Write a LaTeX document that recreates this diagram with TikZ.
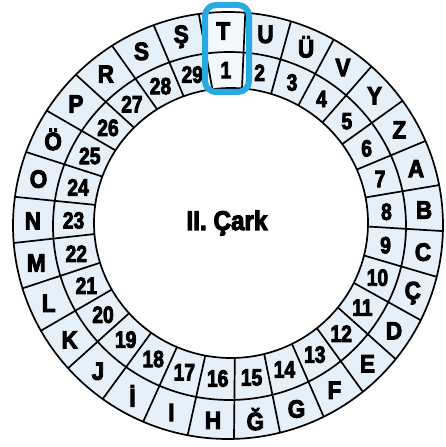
\documentclass[tikz,border=0pt]{standalone}
\usepackage{fontspec}
\setmainfont{Liberation Sans}[BoldFeatures={FakeBold=4}]
\usetikzlibrary{calc}
\definecolor{cellfill}{HTML}{E6F0F9}
\definecolor{boxinner}{HTML}{F3F8FC}
\definecolor{boxblue}{HTML}{29A9E1}
\begin{document}
\begin{tikzpicture}[x=1pt,y=1pt,
  ringline/.style={line width=1.7pt},
  spokeline/.style={line width=1.7pt},
  lettertext/.style={font=\fontsize{25}{25}\selectfont\bfseries, inner sep=0pt},
  numtext/.style={font=\fontsize{23.5}{23.5}\selectfont\bfseries, inner sep=0pt},
  titletext/.style={font=\fontsize{27}{27}\selectfont\bfseries, inner sep=0pt},
  hilite/.style={draw=boxblue, line width=6pt, rounded corners=11pt}]
\useasboundingbox (0,0) rectangle (445,447);
\coordinate (co) at (228,221.5);
\coordinate (cm) at (229.5,221);
\coordinate (ci) at (231,224);
% ring fill
\fill[cellfill, even odd rule] (co) ellipse [x radius=215, y radius=213.5]
  (ci) ellipse [x radius=137, y radius=135];
% lighter interior of the highlighted cell
\begin{scope}[even odd rule]
  \clip (co) ellipse [x radius=215, y radius=213.5]
    (ci) ellipse [x radius=137, y radius=135];
  \fill[boxinner] (205,355) rectangle (249,442);
\end{scope}
% circles
\draw[ringline] (co) ellipse [x radius=215, y radius=213.5];
\draw[ringline] (cm) ellipse [x radius=176.5, y radius=174];
\draw[ringline] (ci) ellipse [x radius=137, y radius=135];
% spokes
\foreach \i in {0,...,28} {
  \pgfmathsetmacro\a{91.6-12.4138*(\i+0.5)}
  \draw[spokeline] ($(ci)+(\a:137 and 135)$) -- ($(co)+(\a:215 and 213.5)$);
}
% letters
\foreach \L [count=\i from 0] in {T,U,Ü,V,Y,Z,A,B,C,Ç,D,E,F,G,Ğ,H,I,İ,J,K,L,M,N,O,Ö,P,R,S,Ş} {
  \pgfmathsetmacro\a{91.6-12.4138*\i}
  \node[lettertext] (L\i) at ($(228.75,221)+(\a:196 and 195)$) {\scalebox{0.9}[1]{\L}};
}
% numbers
\foreach \i in {1,...,29} {
  \pgfmathsetmacro\a{91.6-12.4138*(\i-1)}
  \node[numtext] (N\i) at ($(230.25,222.5)+(\a:156.75 and 154.5)$) {\scalebox{0.82}[1]{\i}};
}
% title
\node[titletext] (title) at (227,224) {\scalebox{0.9}[1]{II. Çark}};
% highlight box
\draw[hilite] (205,355) rectangle (249,442);
\end{tikzpicture}
\end{document}
